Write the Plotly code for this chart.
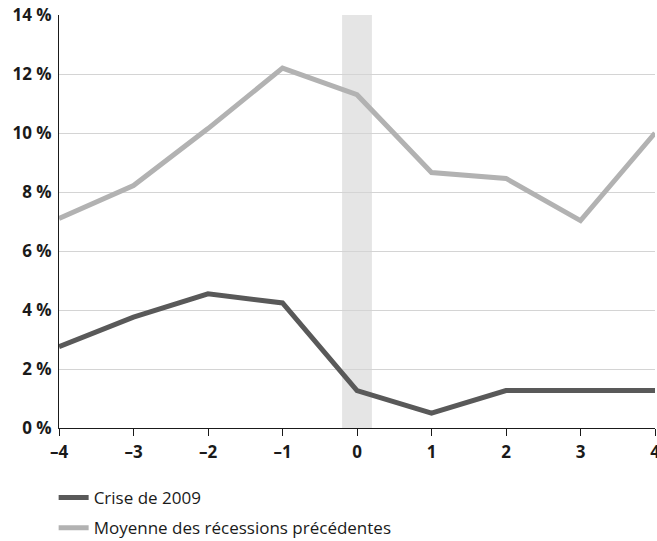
import plotly.graph_objects as go

years = [-4, -3, -2, -1, 0, 1, 2, 3, 4]
tick_labels = ["–4", "–3", "–2", "–1", "0", "1", "2", "3", "4"]
crise_2009 = [2.76, 3.76, 4.55, 4.24, 1.27, 0.50, 1.27, 1.27, 1.27]
moyenne = [7.1, 8.22, 10.15, 12.2, 11.3, 8.66, 8.46, 7.03, 10.0]
band = [-0.2, 0.2]
y_ticks = [0, 2, 4, 6, 8, 10, 12, 14]
y_tick_labels = ["0 %", "2 %", "4 %", "6 %", "8 %", "10 %", "12 %", "14 %"]

fig = go.Figure()
fig.add_trace(go.Scatter(x=years, y=crise_2009, mode="lines", name="Crise de 2009",
                         legendgroup="a",
                         line=dict(color="#595959", width=5), cliponaxis=False))
fig.add_trace(go.Scatter(x=years, y=moyenne, mode="lines", name="Moyenne des récessions précédentes",
                         legendgroup="b",
                         line=dict(color="#b2b2b2", width=5), cliponaxis=False))

fig.add_shape(type="rect", xref="x", yref="y", x0=band[0], x1=band[1], y0=0, y1=14,
              fillcolor="#e5e5e5", line=dict(width=0), layer="below")

tickfont = dict(size=17, family="Open Sans, sans-serif", weight="bold", color="#1a1a1a")

fig.update_layout(
    width=657, height=541,
    margin=dict(l=59, r=2, t=15, b=113, autoexpand=False),
    paper_bgcolor="white", plot_bgcolor="white",
    font=dict(family="Open Sans, Noto Sans, sans-serif", color="#1a1a1a", size=16),
    showlegend=True,
    legend=dict(x=-0.009, y=-0.126, xanchor="left", yanchor="top",
                font=dict(size=17, color="#1a1a1a"), tracegroupgap=5,
                traceorder="grouped",
                bgcolor="rgba(0,0,0,0)"),
    xaxis=dict(range=[-4, 4], tickvals=years, ticktext=tick_labels, automargin=False,
               ticklabeloverflow="allow", ticklabelstandoff=2,
               showgrid=False, zeroline=False, showline=True, linecolor="#1a1a1a", linewidth=1,
               ticks="outside", ticklen=7, tickcolor="#1a1a1a", tickfont=tickfont),
    yaxis=dict(range=[0, 14], tickvals=y_ticks, ticktext=y_tick_labels, automargin=False,
               ticklabeloverflow="allow", ticklabelstandoff=3,
               showgrid=True, gridcolor="#d4d4d4", gridwidth=1, zeroline=False,
               showline=True, linecolor="#1a1a1a", linewidth=1, tickfont=tickfont),
)

fig.write_html("out.html", config={"displayModeBar": False},
               post_script="document.body.style.margin='0px';document.body.style.overflow='hidden';")
